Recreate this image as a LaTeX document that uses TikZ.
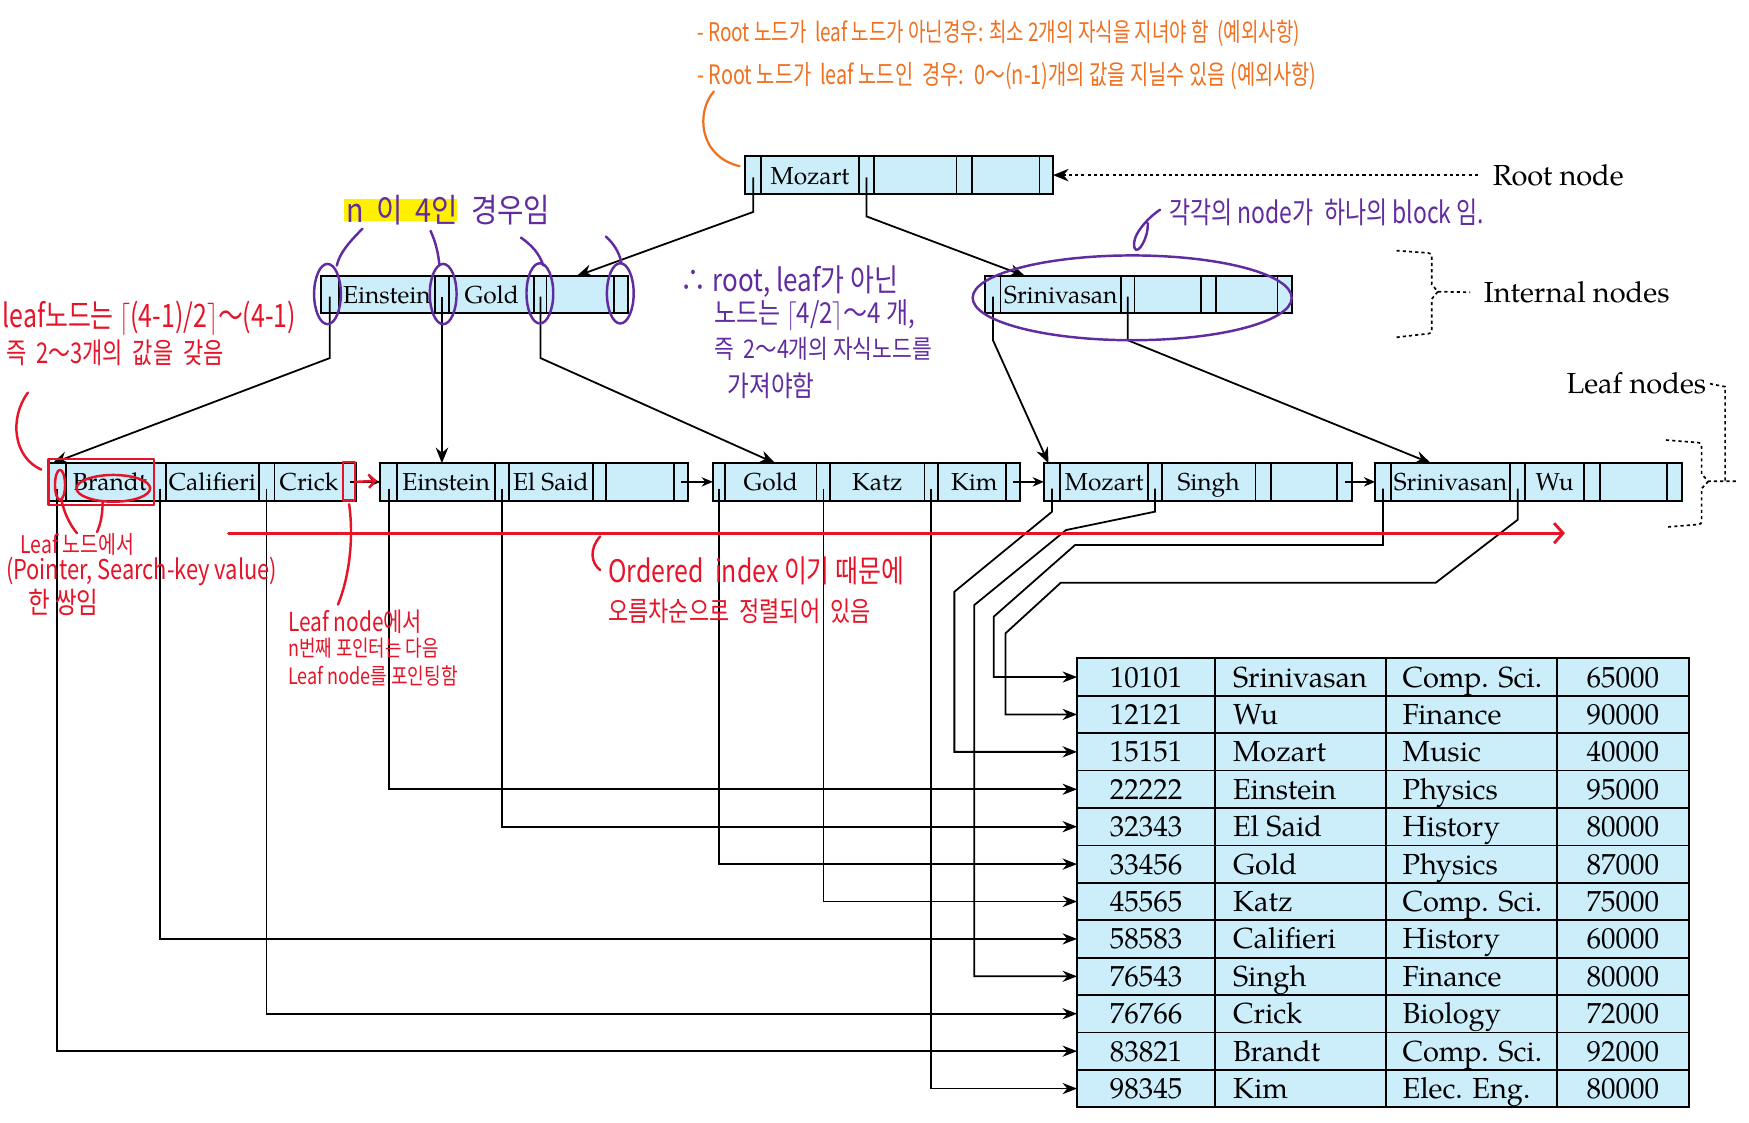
\documentclass[tikz,border=0pt]{standalone}
\usepackage{fontspec}
\usepackage{graphicx}
\setmainfont{TeX Gyre Pagella}
\newfontfamily\kr{Noto Sans CJK KR}
\usetikzlibrary{arrows.meta}
\definecolor{boxfill}{RGB}{204,237,250}
\definecolor{orng}{RGB}{240,112,32}
\definecolor{redann}{RGB}{230,20,40}
\definecolor{purp}{RGB}{96,44,160}
\definecolor{hiyel}{RGB}{255,240,0}
\newcommand\hwtext[3][1.25]{\scalebox{1}[#1]{\resizebox{#2}{!}{#3}}}
\begin{document}
\begin{tikzpicture}[x=0.5pt,y=-0.5pt,
 box/.style={draw=black,line width=0.9pt,fill=boxfill},
 div/.style={draw=black,line width=0.8pt},
 key/.style={font=\fontsize{11}{13}\selectfont,inner sep=0pt,anchor=base},
 ttext/.style={font=\fontsize{13}{15}\selectfont,inner sep=0pt,anchor=base},
 link/.style={draw=black,line width=0.8pt},
 ptr/.style={link,-{Stealth[length=7pt,width=5.6pt]}},
 tptr/.style={link,-{Stealth[length=6.5pt,width=5pt]}},
 nptr/.style={link,-{Stealth[length=5pt,width=4.2pt]}},
 dotline/.style={draw=black,line width=0.75pt,dash pattern=on 1.4pt off 1.4pt},
 lab/.style={font=\fontsize{13}{15}\selectfont,inner sep=0pt},
 ann/.style={inner sep=0pt,anchor=west,font=\kr},
 redl/.style={draw=redann,line width=1.1pt,line cap=round,line join=round},
 purl/.style={draw=purp,line width=1.1pt,line cap=round}]
\useasboundingbox (0,0) rectangle (1568,1006);
\fill[white] (0,0) rectangle (1568,1006);

% ---------- root ----------
\draw[box] (668,140) rectangle (944,174);
\foreach \d in {682.5,770,783.6,857.5,871.6,932} \draw[div] (\d,140)--(\d,174);
\node[key] (root-k1) at (726.2,165) {Mozart};
\coordinate (root-p1) at (675.3,159);
\coordinate (root-p2) at (776.8,159);
\coordinate (rootR) at (944,157);

% ---------- internal 1 ----------
\draw[box] (287.5,247.5) rectangle (563,281);
\foreach \d in {304,389.7,402.7,479,490,550.3} \draw[div] (\d,247.5)--(\d,281);
\node[key] (i1-k1) at (346.8,272) {Einstein};
\node[key] (i1-k2) at (440.8,272) {Gold};
\coordinate (i1-p1) at (295.7,266);
\coordinate (i1-p2) at (396.2,266);
\coordinate (i1-p3) at (484.5,266);
\coordinate (i1-in) at (517,247.5);

% ---------- internal 2 ----------
\draw[box] (883.4,247.5) rectangle (1158.4,281);
\foreach \d in {897,1005,1017,1077,1090,1145.3} \draw[div] (\d,247.5)--(\d,281);
\node[key] (i2-k1) at (951,272) {Srinivasan};
\coordinate (i2-p1) at (890.2,266);
\coordinate (i2-p2) at (1011,266);
\coordinate (i2-in) at (919,247.5);

% ---------- leaves ----------
\draw[box] (43.3,415.3) rectangle (319.4,449);
\foreach \d in {59,138,148.8,232,246,308} \draw[div] (\d,415.3)--(\d,449);
\node[key] (l1-k1) at (98.5,440) {Brandt};
\node[key] (l1-k2) at (190.4,440) {Califieri};
\node[key] (l1-k3) at (277,440) {Crick};
\coordinate (l1-p1) at (51.1,438);
\coordinate (l1-p2) at (143.4,438);
\coordinate (l1-p3) at (239,438);
\coordinate (l1-p4) at (313.7,432);
\coordinate (l1-in) at (47,415.3);

\draw[box] (341,415.3) rectangle (616.4,449);
\foreach \d in {356.2,443.5,456.3,531.5,543.4,604.4} \draw[div] (\d,415.3)--(\d,449);
\node[key] (l2-k1) at (399.9,440) {Einstein};
\node[key] (l2-k2) at (493.9,440) {El Said};
\coordinate (l2-p1) at (348.6,438);
\coordinate (l2-p2) at (449.9,438);
\coordinate (l2-p4) at (610.4,432);
\coordinate (l2-in) at (396.2,415.3);
\coordinate (l2-w) at (341,432);

\draw[box] (639,415.3) rectangle (914.5,449);
\foreach \d in {650,732,744.3,828.8,841,902} \draw[div] (\d,415.3)--(\d,449);
\node[key] (l3-k1) at (691,440) {Gold};
\node[key] (l3-k2) at (786.5,440) {Katz};
\node[key] (l3-k3) at (873.5,440) {Kim};
\coordinate (l3-p1) at (644.5,438);
\coordinate (l3-p2) at (738.2,438);
\coordinate (l3-p3) at (834.9,438);
\coordinate (l3-p4) at (908.3,432);
\coordinate (l3-in) at (695,415.3);
\coordinate (l3-w) at (639,432);

\draw[box] (935.8,415.3) rectangle (1212,449);
\foreach \d in {950.5,1029.4,1041.5,1125.5,1139.5,1198.7} \draw[div] (\d,415.3)--(\d,449);
\node[key] (l4-k1) at (990,440) {Mozart};
\node[key] (l4-k2) at (1083.5,440) {Singh};
\coordinate (l4-p1) at (943.2,438);
\coordinate (l4-p2) at (1035.5,438);
\coordinate (l4-p4) at (1205.4,432);
\coordinate (l4-in) at (940,415.3);
\coordinate (l4-w) at (935.8,432);

\draw[box] (1232.8,415.3) rectangle (1507.7,449);
\foreach \d in {1246.8,1353.8,1367.3,1420,1434.5,1494.3} \draw[div] (\d,415.3)--(\d,449);
\node[key] (l5-k1) at (1300.3,440) {Srinivasan};
\node[key] (l5-k2) at (1393.7,440) {Wu};
\coordinate (l5-p1) at (1239.8,438);
\coordinate (l5-p2) at (1360.6,438);
\coordinate (l5-in) at (1282.8,415.3);
\coordinate (l5-w) at (1232.8,432);

% ---------- tree edges ----------
\draw[ptr] (root-p1) -- (675.3,190) -- (i1-in);
\draw[ptr] (root-p2) -- (776.8,194) -- (i2-in);
\draw[ptr] (i1-p1) -- (295.7,321) -- (l1-in);
\draw[ptr] (i1-p2) -- (l2-in);
\draw[ptr] (i1-p3) -- (484.5,321) -- (l3-in);
\draw[ptr] (i2-p1) -- (890.2,305) -- (l4-in);
\draw[ptr] (i2-p2) -- (1011,305) -- (l5-in);
\draw[nptr] (l1-p4) -- (l2-w);
\draw[nptr] (l2-p4) -- (l3-w);
\draw[nptr] (l3-p4) -- (l4-w);
\draw[nptr] (l4-p4) -- (l5-w);

% ---------- table ----------
\fill[boxfill] (965.6,590.2) rectangle (1513.9,992.7);
\foreach \i in {1,...,11} \draw[div] (965.6,{590.2+33.54*\i}) -- (1513.9,{590.2+33.54*\i});
\foreach \x in {1089.3,1242.3,1396} \draw[div] (\x,590.2) -- (\x,992.7);
\draw[div,line width=0.9pt] (965.6,590.2) rectangle (1513.9,992.7);
\foreach [count=\i] \a/\b/\c/\d in {10101/Srinivasan/Comp. Sci./65000,12121/Wu/Finance/90000,15151/Mozart/Music/40000,22222/Einstein/Physics/95000,32343/El Said/History/80000,33456/Gold/Physics/87000,45565/Katz/Comp. Sci./75000,58583/Califieri/History/60000,76543/Singh/Finance/80000,76766/Crick/Biology/72000,83821/Brandt/Comp. Sci./92000,98345/Kim/Elec. Eng./80000}{
 \pgfmathsetmacro\yc{590.2+33.54*(\i-0.5)}
 \coordinate (row\i) at (965.6,\yc);
 \node[ttext] (id\i) at (1027.5,\yc+9) {\a};
 \node[ttext,anchor=base west] (nm\i) at (1105,\yc+9) {\b};
 \node[ttext,anchor=base west] (dp\i) at (1257,\yc+9) {\c};
 \node[ttext] (sal\i) at (1455,\yc+9) {\d};
}

% ---------- leaf -> record pointers ----------
\draw[tptr] (l5-p1) -- (1239.8,488.6) -- (963.8,488.6) -- (890.8,552.9) |- (row1);
\draw[tptr] (l5-p2) -- (1360.6,466) -- (1287.2,522.4) -- (951,522.4) -- (901.4,567.8) |- (row2);
\draw[tptr] (l4-p1) -- (943.2,458.7) -- (855.6,530.5) |- (row3);
\draw[tptr] (l2-p1) |- (row4);
\draw[tptr] (l2-p2) |- (row5);
\draw[tptr] (l3-p1) |- (row6);
\draw[tptr] (l3-p2) |- (row7);
\draw[tptr] (l1-p2) |- (row8);
\draw[tptr] (l4-p2) -- (1035.5,458.7) -- (955.7,475.2) -- (873.5,542.4) |- (row9);
\draw[tptr] (l1-p3) |- (row10);
\draw[tptr] (l1-p1) |- (row11);
\draw[tptr] (l3-p3) |- (row12);

% ---------- labels ----------
\node[lab,anchor=west] (rootlab) at (1338,157) {Root node};
\draw[dotline,-{Stealth[length=7pt,width=5.6pt]}] ([xshift=-6.5pt]rootlab.west) -- (rootR);
\node[lab,anchor=west] (intlab) at (1330,262) {Internal nodes};
\draw[dotline] (1252,224.7) -- (1277,226.5) .. controls (1283.6,227) .. (1283.6,233) -- (1283.6,255) -- (1289,261.5) -- ([xshift=-6pt]intlab.west);
\draw[dotline] (1289,261.5) -- (1283.6,268) -- (1283.6,293) .. controls (1283.6,299) .. (1277,299.5) -- (1252,302.4);
\node[lab,anchor=east] (leaflab) at (1530,344) {Leaf nodes};
\coordinate (leafk) at (1531.6,431.5);
\draw[dotline] (1493.6,394.5) -- (1519,396.5) .. controls (1525.5,397) .. (1525.5,402) -- (1525.5,425) -- (leafk) -- (1557,431.5);
\draw[dotline] (leafk) -- (1525.5,438) -- (1525.5,465) .. controls (1525.5,470) .. (1519,470.5) -- (1494,472.5);
\draw[dotline] ([xshift=1.5pt]leaflab.east) -- (1546.6,346.7) -- (1546.6,431.5);

% ---------- orange annotations ----------
\node[ann,text=orng] (o1) at (625,30) {\hwtext[1.35]{270pt}{- Root 노드가 \ leaf 노드가 아닌경우: 최소 2개의 자식을 지녀야 함 \ (예외사항)}};
\node[ann,text=orng] (o2) at (625,68) {\hwtext[1.35]{277.5pt}{- Root 노드가 \ leaf 노드인 \ 경우: \ 0～(n-1)개의 값을 지닐수 있음 (예외사항)}};
\draw[draw=orng,line width=1pt,line cap=round] (640,82) .. controls (624,100) and (626,140) .. (663,149);

% ---------- purple annotations ----------
\fill[hiyel] (308,178) rectangle (410,198);
\node[ann,text=purp] (pn4) at (310,188) {\hwtext[1.15]{91.5pt}{n \ 이 \ 4인 \ 경우임}};
\draw[purl] (325,205) .. controls (312,218) and (304,228) .. (302,238);
\draw[purl] (386,207) .. controls (391,218) and (393,228) .. (394,238);
\draw[purl] (467,213) .. controls (477,220) and (484,228) .. (487,238);
\draw[purl] (543,212) .. controls (550,218) and (555,226) .. (557,235);
\draw[purl] (293.6,263.6) ellipse [x radius=12,y radius=27];
\draw[purl] (397.3,263.6) ellipse [x radius=12,y radius=27];
\draw[purl] (484,263) ellipse [x radius=12,y radius=27];
\draw[purl] (556.1,263) ellipse [x radius=12,y radius=27];
\draw[purl] (1015,267) ellipse [x radius=143,y radius=38];
\node[ann,text=purp] (pblock) at (1048,190) {\hwtext[1.3]{141pt}{각각의 node가 \ 하나의 block 임.}};
\draw[purl] (1040,188) .. controls (1028,196) and (1014,212) .. (1017,222) .. controls (1020,230) and (1030,212) .. (1029,200);
\node[ann,text=purp] (pr1) at (610,252) {\hwtext[1.2]{97.5pt}{∴ root, leaf가 아닌}};
\node[ann,text=purp] (pr2) at (640,283) {\hwtext[1.2]{90pt}{노드는 $\lceil$4/2$\rceil$～4 개,}};
\node[ann,text=purp] (pr3) at (640,313) {\hwtext[1.2]{97.5pt}{즉 \ 2～4개의 자식노드를}};
\node[ann,text=purp] (pr4) at (652,346) {\hwtext[1.2]{39pt}{가져야함}};

% ---------- red annotations ----------
\node[ann,text=redann] (rl1) at (2,285) {\hwtext[1.3]{131.5pt}{leaf노드는 $\lceil$(4-1)/2$\rceil$～(4-1)}};
\node[ann,text=redann] (rl2) at (5,316) {\hwtext[1.3]{97.5pt}{즉 \ 2～3개의 \ 값을 \ 갖음}};
\draw[redl] (25,352) .. controls (8,375) and (12,410) .. (37,421);
\draw[redl] (43.3,411.5) rectangle (138,452.5);
\draw[redl] (53.8,434.7) ellipse [x radius=4.5,y radius=13.5];
\draw[redl] (101.6,437.8) ellipse [x radius=33,y radius=12];
\draw[redl] (55,448) .. controls (58,462) and (64,472) .. (69,478);
\draw[redl] (92,450) .. controls (92,462) and (90,470) .. (87,477);
\node[ann,text=redann] (rp1) at (18,488) {\hwtext[1.25]{51pt}{Leaf 노드에서}};
\node[ann,text=redann] (rp2) at (5,512) {\hwtext[1.25]{121.5pt}{(Pointer, Search-key value)}};
\node[ann,text=redann] (rp3) at (25,540) {\hwtext[1.25]{31.5pt}{한 쌍임}};
\draw[redl] (307.5,414) rectangle (318.5,448.5);
\draw[redl,-{Straight Barb[length=3pt,width=6pt]}] (319,432) -- (338,431);
\draw[redl] (313,452) .. controls (317,480) and (314,515) .. (303,542);
\node[ann,text=redann] (rn1) at (258,557) {\hwtext[1.25]{60pt}{Leaf node에서}};
\node[ann,text=redann] (rn2) at (258,581) {\hwtext[1.25]{67.5pt}{n번째 포인터는 다음}};
\node[ann,text=redann] (rn3) at (258,606) {\hwtext[1.25]{76pt}{Leaf node를 포인팅함}};
\coordinate (ordS) at (205,478);
\coordinate (ordE) at (1403,478);
\draw[redl,line width=1.3pt,-{Straight Barb[length=4pt,width=9pt]}] (ordS) -- (ordE);
\draw[redl] (538,481) .. controls (528,492) and (530,505) .. (538,511);
\node[ann,text=redann] (ro1) at (545,512) {\hwtext[1.25]{132.5pt}{Ordered \ index 이기 때문에}};
\node[ann,text=redann] (ro2) at (545,548) {\hwtext[1.25]{117.5pt}{오름차순으로 \ 정렬되어 \ 있음}};
\end{tikzpicture}
\end{document}
